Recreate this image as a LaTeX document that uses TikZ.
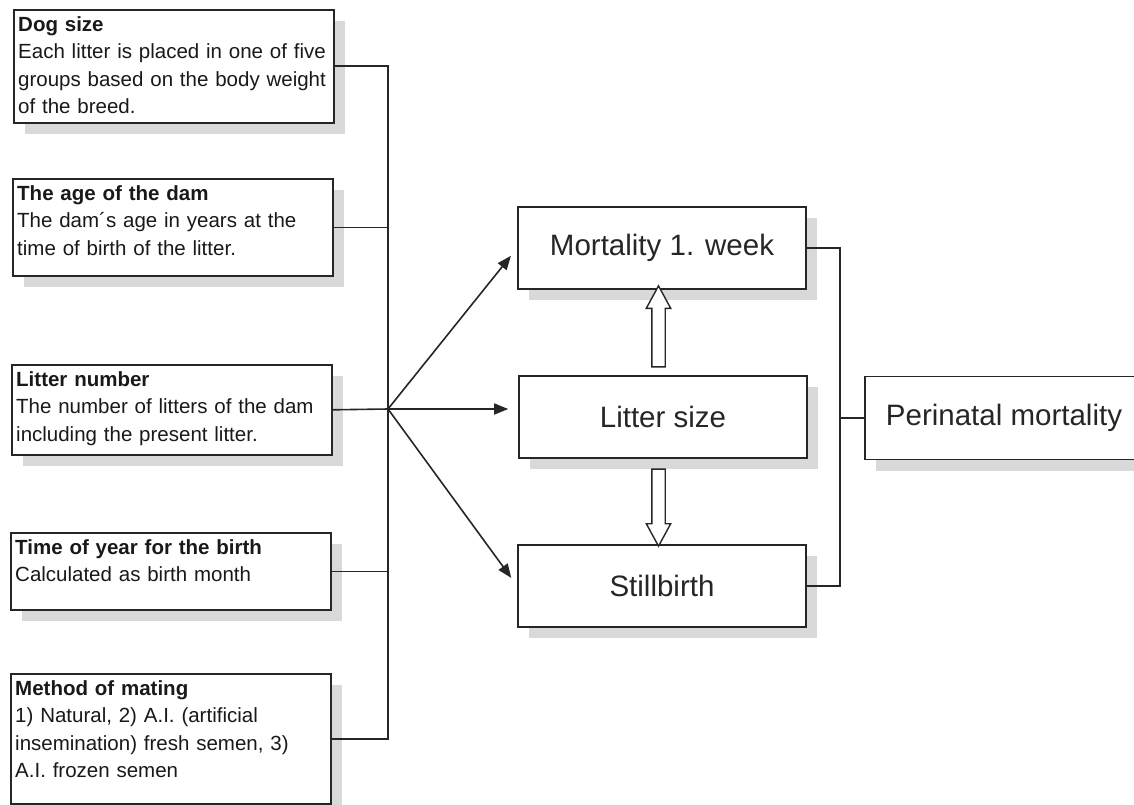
\documentclass[tikz,border=0pt]{standalone}
\usepackage{fontspec}
\setmainfont{Liberation Sans}
\usetikzlibrary{arrows.meta,shadows,shapes.arrows,calc}

\tikzset{
  boxshadow/.style={drop shadow={shadow xshift=11pt, shadow yshift=-11pt, fill=black!15, opacity=1}},
  factor/.style={draw=black!85, line width=1.6pt, fill=white, minimum width=320pt, anchor=north west, boxshadow},
  factortext/.style={anchor=north west, inner sep=0pt, text width=320pt, align=left, text=black!90,
    font=\fontsize{20.5}{27.5}\selectfont},
  outcome/.style={draw=black!85, line width=1.6pt, fill=white, minimum width=288pt, minimum height=82pt,
    text=black!85, font=\fontsize{29.5}{34}\selectfont, boxshadow},
  link/.style={draw=black!85, line width=1.6pt},
  arr/.style={link, -{Triangle[length=14pt,width=11pt]}, shorten >=10pt},
  hollow/.style={single arrow, draw=black!85, line width=1.4pt, fill=white, inner sep=6pt,
    single arrow head extend=5.5pt, single arrow tip angle=57}
}

\begin{document}
\begin{tikzpicture}[x=1pt, y=-1pt]
    \useasboundingbox (0,0) rectangle (1134,805);
    \clip (0,0) rectangle (1134,805);

    \node[factor, minimum height=113pt] (dog) at (13,9) {};
    \node[factortext] (dogtext) at ([shift={(5,7)}]dog.north west)
      {\textbf{Dog size}\\Each litter is placed in one of five\\groups based on the body weight\\of the breed.};
    \node[factor, minimum height=97pt] (age) at (12,178) {};
    \node[factortext] (agetext) at ([shift={(5,7)}]age.north west)
      {\textbf{The age of the dam}\\The dam´s age in years at the\\time of birth of the litter.};
    \node[factor, minimum height=90pt] (litnum) at (11,364) {};
    \node[factortext] (litnumtext) at ([shift={(5,7)}]litnum.north west)
      {\textbf{Litter number}\\The number of litters of the dam\\including the present litter.};
    \node[factor, minimum height=77pt] (season) at (10,532) {};
    \node[factortext] (seasontext) at ([shift={(5,7)}]season.north west)
      {\textbf{Time of year for the birth}\\Calculated as birth month};
    \node[factor, minimum height=130pt] (mating) at (10,673) {};
    \node[factortext] (matingtext) at ([shift={(5,7)}]mating.north west)
      {\textbf{Method of mating}\\1) Natural, 2) A.I. (artificial\\insemination) fresh semen, 3)\\A.I. frozen semen};

    \node[outcome] (mort) at (662,248) {Mortality 1. week};
    \node[outcome] (litter) at (663,417) {Litter size};
    \node[outcome] (still) at (662,586) {Stillbirth};
    \node[outcome, minimum width=278pt, minimum height=83pt] (peri) at (1004,418) {Perinatal mortality};

    \coordinate (hub) at (388,409);
    \foreach \f in {dog, age, season, mating}
      \draw[link] (\f.east) -| (hub);
    \draw[link] (litnum.east) -- (hub);
    \draw[arr] (hub) -- (mort.west);
    \draw[arr] (hub) -- (hub -| litter.west);
    \draw[arr] (hub) -- (still.west);

    \coordinate (join) at (840,418);
    \draw[link] (mort.east) -| (join);
    \draw[link] (still.east) -| (join);
    \draw[link] (join) -- (peri.west);

    \node[hollow, rotate=90, minimum height=81pt] (up) at ([xshift=-4pt]$(litter.north)!0.5!(mort.south)$) {};
    \node[hollow, rotate=-90, minimum height=77pt] (down) at ([xshift=-4pt]$(litter.south)!0.5!(still.north)$) {};
  \end{tikzpicture}
\end{document}
